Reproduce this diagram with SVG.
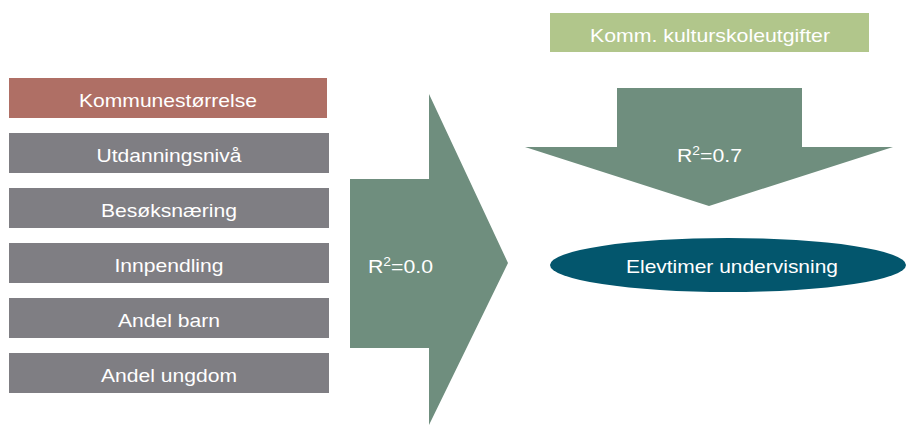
<svg xmlns="http://www.w3.org/2000/svg" width="906" height="426" viewBox="0 0 906 426">
<style>
text{font-family:"Liberation Sans",Arial,sans-serif;fill:#ffffff;font-size:18.5px}
.c{text-anchor:middle}
.gray{fill:#7f7e83}
.arrow{fill:#6f8e7e}
</style>
<rect width="906" height="426" fill="#ffffff"/>
<g id="connectors">
<polygon class="arrow" points="350,179 429,179 429,94 508,263 429,425 429,348 350,348"/>
<text x="368" y="273" textLength="65" lengthAdjust="spacingAndGlyphs">R<tspan dy="-7" font-size="12">2</tspan><tspan dy="7">=0.0</tspan></text>
<polygon class="arrow" points="617,88 802,88 802,147 893,147 709,206 525,147 617,147"/>
<text x="677" y="162" textLength="65" lengthAdjust="spacingAndGlyphs">R<tspan dy="-7" font-size="12">2</tspan><tspan dy="7">=0.7</tspan></text>
</g>
<g id="kommunestorrelse"><rect x="9" y="78" width="318" height="40" fill="#af6f65"/><text class="c" x="168" y="107" textLength="178" lengthAdjust="spacingAndGlyphs">Kommunestørrelse</text></g>
<g id="utdanningsniva"><rect class="gray" x="9" y="133" width="320" height="40"/><text class="c" x="169" y="162" textLength="145" lengthAdjust="spacingAndGlyphs">Utdanningsnivå</text></g>
<g id="besoksnaering"><rect class="gray" x="9" y="188" width="320" height="40"/><text class="c" x="169" y="217" textLength="136" lengthAdjust="spacingAndGlyphs">Besøksnæring</text></g>
<g id="innpendling"><rect class="gray" x="9" y="243" width="320" height="40"/><text class="c" x="169" y="272" textLength="109" lengthAdjust="spacingAndGlyphs">Innpendling</text></g>
<g id="andel-barn"><rect class="gray" x="9" y="298" width="320" height="40"/><text class="c" x="169" y="327" textLength="102" lengthAdjust="spacingAndGlyphs">Andel barn</text></g>
<g id="andel-ungdom"><rect class="gray" x="9" y="353" width="320" height="40"/><text class="c" x="169" y="382" textLength="136" lengthAdjust="spacingAndGlyphs">Andel ungdom</text></g>
<g id="kulturskoleutgifter"><rect x="550" y="13" width="319" height="39" fill="#b1c68b"/><text class="c" x="710" y="42" textLength="240" lengthAdjust="spacingAndGlyphs">Komm. kulturskoleutgifter</text></g>
<g id="elevtimer"><ellipse cx="728" cy="265" rx="178" ry="27" fill="#03566d"/><text class="c" x="732" y="273" textLength="212" lengthAdjust="spacingAndGlyphs">Elevtimer undervisning</text></g>
</svg>
